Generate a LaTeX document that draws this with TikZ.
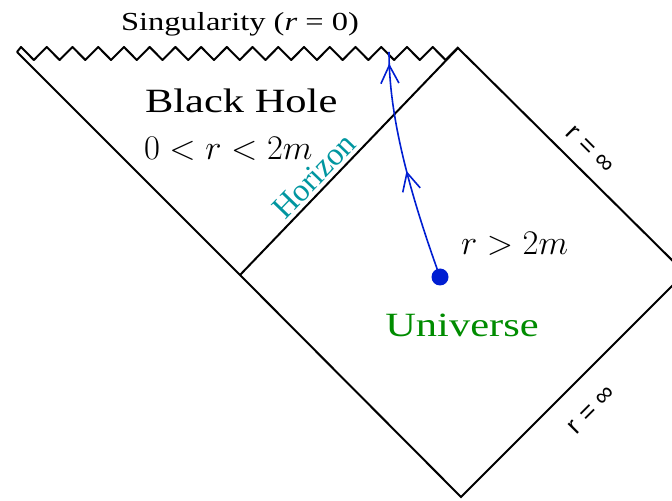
\documentclass[tikz,border=0pt]{standalone}
\usepackage{fontspec}
\newfontfamily\timesfont{Liberation Serif}
\newfontfamily\widefont[FakeStretch=1.25]{Liberation Serif}
\newfontfamily\arialfont{Liberation Sans}
\usetikzlibrary{arrows.meta,decorations.markings}

\definecolor{bhgreen}{RGB}{0,140,0}
\definecolor{bhteal}{RGB}{0,150,160}
\definecolor{bhblue}{RGB}{0,30,210}

\tikzset{
    worldline/.style={bhblue, line width=0.8pt,
        postaction={decorate},
        decoration={markings,
            mark=at position 0.48 with {\arrow{Straight Barb[length=9pt,width=9pt]}},
            mark=at position 0.95 with {\arrow{Straight Barb[length=9pt,width=9pt]}}}},
    infty/.style={font=\arialfont\fontsize{13}{15}\selectfont}
}

\begin{document}
\begin{tikzpicture}[x=0.5pt, y=-0.5pt, line width=1pt]

    \useasboundingbox (0,0) rectangle (672,501);
    \clip (0,0) rectangle (672,501);

    % Hoekpunten
    \coordinate (lefttop) at (17,52);
    \coordinate (toprt) at (458,48);
    \coordinate (hor) at (240,275);
    \coordinate (rgt) at (685,273);
    \coordinate (bot) at (461,497);

    % Singulariteit
    \draw[line join=round] (lefttop) -- (21,47)
        \foreach \k in {0,...,16} {
            -- ({21+25.73*\k+12.87},60) -- ({21+25.73*(\k+1)},47)
        };

    % Randen
    \draw (lefttop) -- (hor) -- (bot) -- (rgt) -- (toprt);
    \draw (hor) -- (toprt);

    % Waarnemer
    \node[circle, fill=bhblue, inner sep=0pt, minimum size=8.5pt] (obs) at (440,277) {};
    \coordinate (hit) at (389,52);
    \draw[worldline] (obs.center) .. controls (405,180) and (389,110) .. (hit);

    % Teksten
    \node[anchor=base, inner sep=0pt, font=\widefont\fontsize{13}{16}\selectfont] (sing) at (240,31)
        {Singularity (\textit{r} = 0)};
    \node[anchor=base west, inner sep=0pt, font=\widefont\fontsize{17}{20}\selectfont] (bh) at (144,113)
        {Black Hole};
    \node[anchor=base west, inner sep=0pt, font=\fontsize{16}{19}\selectfont] (inside) at (143,160)
        {$0<r<2m$};
    \node[anchor=base west, inner sep=0pt, font=\fontsize{16}{19}\selectfont] (outside) at (460,255)
        {$r>2m$};
    \node[anchor=base, inner sep=0pt, bhgreen, font=\widefont\fontsize{17}{20}\selectfont] (univ) at (462,336)
        {Universe};
    \node[rotate=46, bhteal, inner sep=0pt, font=\timesfont\fontsize{16}{19}\selectfont] (horlabel) at (314,176)
        {Horizon};
    \node[rotate=-45, inner sep=0pt, infty] (scri+) at (590,150) {r = ∞};
    \node[rotate=45, inner sep=0pt, infty] (scri-) at (592,410) {r = ∞};

\end{tikzpicture}
\end{document}
